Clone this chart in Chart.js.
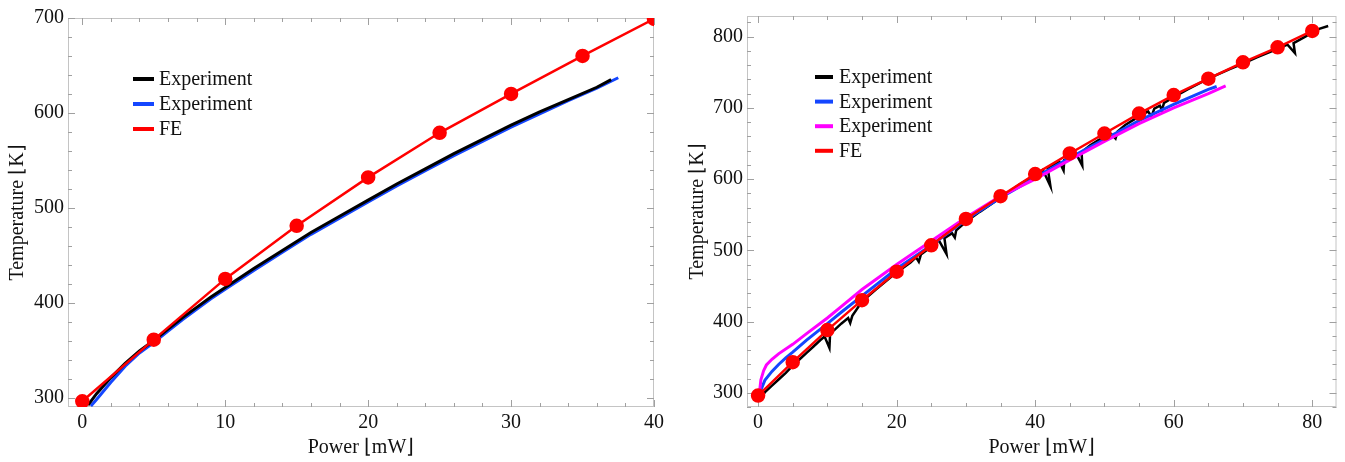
<!DOCTYPE html>
<html><head><meta charset="utf-8">
<script src="https://cdn.jsdelivr.net/npm/chart.js@4.4.1/dist/chart.umd.min.js"></script>
<style>
html,body{margin:0;padding:0;background:#fff;}
#wrap{position:relative;width:1345px;height:462px;overflow:hidden;background:#fff;}
#c1{position:absolute;left:0;top:0;}
#c2{position:absolute;left:680px;top:0;}
</style></head><body>
<div id="wrap"><canvas id="c1" width="670" height="462"></canvas><canvas id="c2" width="665" height="462"></canvas></div>
<script>
// ---------- data ----------
const xTitle = 'Power ⌊mW⌋';
const yTitle = 'Temperature ⌊K⌋';

// left panel
const leftTicksX = [0, 10, 20, 30, 40];
const leftTicksY = [300, 400, 500, 600, 700];
const leftLabels = ['Experiment', 'Experiment', 'FE'];
const leftExpAP = [0.4,1,2,3,4,5,6,7,8,9,10,12,14,16,18,20,22,24,26,28,30,32,34,36,37];
const leftExpAT = [292,304,321,336,349,360,372,384,395,406,416,436,455,474,491,508,525,541,557,572,587,601,614,627,635];
const leftExpBP = [0.6,1,2,3,4,5,6,7,8,9,10,12,14,16,18,20,22,24,26,28,30,32,34,36,37.5];
const leftExpBT = [291,298,316,333,347,358,370,382,393,404,414,434,453,472,489,506,523,539,555,570,585,599,613,626,637];
const leftFEP = [0,5,10,15,20,25,30,35,40];
const leftFET = [296,361,425,481,532,579,620,660,699];

// right panel
const rightTicksX = [0, 20, 40, 60, 80];
const rightTicksY = [300, 400, 500, 600, 700, 800];
const rightLabels = ['Experiment', 'Experiment', 'Experiment', 'FE'];
const rightExpAP = [0.2,1,2,3,4,5,6,7,8,9,9.6,10.3,10.4,11,12,13,13.3,13.6,15,17,20,22,22.8,23.2,23.5,25,26.1,27.2,26.9,28,28.4,28.6,30,32,35,38,40,41.1,42.2,41.8,43.5,44.1,44.2,46,46.8,46.7,48,50,51,51.6,51.9,53,55,56.3,56.8,57.2,58,58.3,58.6,60,62,65,68,70,72,75,76.4,77.5,77.3,79,80,81,82.3];
const rightExpAT = [289,301,310,319,328,338,347,356,365,374,379,363,384,388,397,405,398,408,428,445,469,483,490,484,494,505,514,495,517,524,518,528,540,554,574,594,605,613,590,616,624,612,627,634,619,638,648,660,663,657,667,676,688,695,688,699,703,697,707,715,726,741,754,762,771,783,789,777,791,800,806,811,815];
const rightExpBP = [0.3,0.5,1,2,3,4,5,7,10,12,15,20,25,30,35,40,45,50,55,60,65,66.2];
const rightExpBT = [296,306,318,330,340,349,357,374,397,413,436,474,507,543,574,602,630,656,682,705,726,730];
const rightExpCP = [0.2,0.4,0.8,1.2,2,3,5,7,10,12,15,20,25,30,35,40,45,50,55,60,65,67.5];
const rightExpCT = [300,318,331,339,347,355,368,383,405,421,445,480,513,546,576,600,627,653,678,700,720,731];
const rightFEP = [0,5,10,15,20,25,30,35,40,45,50,55,60,65,70,75,80];
const rightFET = [296,343,388,430,470,507,544,576,607,636,664,692,718,741,764,785,808];

// ---------- helpers ----------
const FONT = 'Liberation Serif, Times New Roman, serif';
const pts = (xs, ys) => xs.map((x, i) => ({x, y: ys[i]}));

const frameTicks = {
  id: 'frameTicks',
  beforeDatasetsDraw(chart, args, o) {
    const {ctx, chartArea: a, scales: {x, y}} = chart;
    ctx.save();
    ctx.strokeStyle = '#c4c4c4';
    ctx.lineWidth = 1;
    ctx.strokeRect(a.left + 0.5, a.top + 0.5, a.right - a.left - 1, a.bottom - a.top - 1);
    ctx.strokeStyle = '#a0a0a0';
    ctx.beginPath();
    const startX = Math.ceil(x.min / o.xMinor) * o.xMinor;
    for (let v = startX; v <= x.max + 1e-9; v += o.xMinor) {
      const major = Math.abs(v / o.xMajor - Math.round(v / o.xMajor)) < 1e-6;
      const L = major ? 7 : 4;
      const px = Math.round(x.getPixelForValue(v)) + 0.5;
      ctx.moveTo(px, a.bottom); ctx.lineTo(px, a.bottom - L);
      ctx.moveTo(px, a.top); ctx.lineTo(px, a.top + L);
    }
    const startY = Math.ceil(y.min / o.yMinor) * o.yMinor;
    for (let v = startY; v <= y.max + 1e-9; v += o.yMinor) {
      const major = Math.abs(v / o.yMajor - Math.round(v / o.yMajor)) < 1e-6;
      const L = major ? 7 : 4;
      const py = Math.round(y.getPixelForValue(v)) + 0.5;
      ctx.moveTo(a.left, py); ctx.lineTo(a.left + L, py);
      ctx.moveTo(a.right, py); ctx.lineTo(a.right - L, py);
    }
    ctx.stroke();
    ctx.restore();
  }
};

const customLegend = {
  id: 'customLegend',
  afterDraw(chart, args, o) {
    const ctx = chart.ctx;
    ctx.save();
    ctx.font = '20px ' + FONT;
    ctx.textBaseline = 'middle';
    chart.data.datasets.forEach((ds, i) => {
      const yy = o.y0 + i * o.dy;
      ctx.strokeStyle = ds.borderColor;
      ctx.lineWidth = 4;
      ctx.beginPath();
      ctx.moveTo(o.x0, yy); ctx.lineTo(o.x1, yy);
      ctx.stroke();
      ctx.fillStyle = '#111';
      ctx.fillText(ds.label, o.tx, yy + 1);
    });
    ctx.restore();
  }
};

function lineDs(label, data, color, order, width) {
  return {label, data, borderColor: color, backgroundColor: color, showLine: true,
    pointRadius: 0, borderWidth: width, tension: 0, order};
}
function feDs(label, data) {
  return {label, data, borderColor: '#ff0000', backgroundColor: '#ff0000', showLine: true,
    pointRadius: 6, pointHoverRadius: 6, borderWidth: 2.5, tension: 0, order: 0};
}

function makeOptions(cfg) {
  return {
    responsive: false, animation: false, devicePixelRatio: 1,
    layout: {padding: cfg.padding},
    plugins: {
      legend: {display: false}, tooltip: {enabled: false},
      frameTicks: cfg.frame, customLegend: cfg.legend
    },
    scales: {
      x: {
        type: 'linear', min: cfg.xMin, max: cfg.xMax,
        afterBuildTicks: s => { s.ticks = cfg.ticksX.map(v => ({value: v})); },
        afterFit: s => { s.height = 55; },
        grid: {display: false, drawTicks: false}, border: {display: false},
        ticks: {autoSkip: false, maxRotation: 0, padding: 4, color: '#111', font: {family: FONT, size: 20}},
        title: {display: true, text: xTitle, color: '#111', font: {family: FONT, size: 20}, padding: {top: 0, bottom: 2}}
      },
      y: {
        type: 'linear', min: cfg.yMin, max: cfg.yMax,
        afterBuildTicks: s => { s.ticks = cfg.ticksY.map(v => ({value: v})); },
        afterFit: s => { s.width = cfg.yWidth; },
        grid: {display: false, drawTicks: false}, border: {display: false},
        ticks: {autoSkip: false, padding: 4, color: '#111', font: {family: FONT, size: 20}},
        title: {display: true, text: yTitle, color: '#111', font: {family: FONT, size: 20}, padding: {top: 6, bottom: 0}}
      }
    }
  };
}

new Chart(document.getElementById('c1'), {
  type: 'scatter',
  data: {datasets: [
    lineDs(leftLabels[0], pts(leftExpAP, leftExpAT), '#000000', 1, 3),
    lineDs(leftLabels[1], pts(leftExpBP, leftExpBT), '#1446ff', 2, 3),
    feDs(leftLabels[2], pts(leftFEP, leftFET))
  ]},
  options: makeOptions({
    padding: {top: 18, right: 16, bottom: 0, left: 0},
    xMin: -1, xMax: 40, yMin: 290, yMax: 700,
    ticksX: leftTicksX, ticksY: leftTicksY, yWidth: 68,
    frame: {xMinor: 2, xMajor: 10, yMinor: 20, yMajor: 100},
    legend: {x0: 133, x1: 154, tx: 159, y0: 79, dy: 25}
  }),
  plugins: [frameTicks, customLegend]
});

new Chart(document.getElementById('c2'), {
  type: 'scatter',
  data: {datasets: [
    lineDs(rightLabels[0], pts(rightExpAP, rightExpAT), '#000000', 3, 2.5),
    lineDs(rightLabels[1], pts(rightExpBP, rightExpBT), '#1446ff', 2, 3),
    lineDs(rightLabels[2], pts(rightExpCP, rightExpCT), '#ff00ff', 1, 3),
    feDs(rightLabels[3], pts(rightFEP, rightFET))
  ]},
  options: makeOptions({
    padding: {top: 15, right: 1, bottom: 0, left: 0},
    xMin: -1.6, xMax: 83.5, yMin: 280, yMax: 829,
    ticksX: rightTicksX, ticksY: rightTicksY, yWidth: 67,
    frame: {xMinor: 5, xMajor: 20, yMinor: 20, yMajor: 100},
    legend: {x0: 135, x1: 153, tx: 159, y0: 77, dy: 24.6}
  }),
  plugins: [frameTicks, customLegend]
});
</script>
</body></html>
